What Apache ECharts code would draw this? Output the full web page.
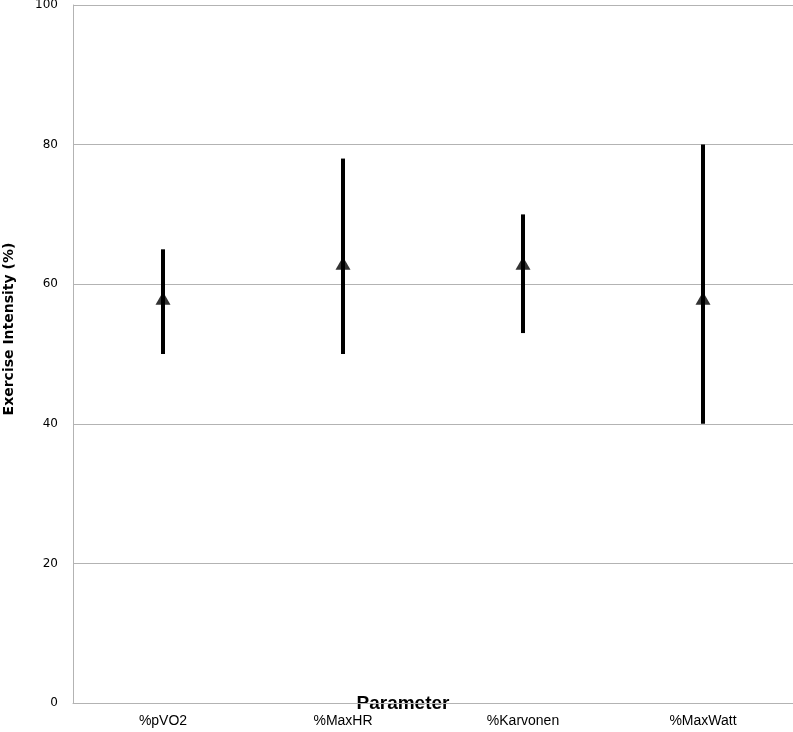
<!DOCTYPE html>
<html><head><meta charset="utf-8">
<script src="https://cdn.jsdelivr.net/npm/echarts@6/dist/echarts.min.js"></script>
<style>html,body{margin:0;padding:0;background:#fff}#c{width:793px;height:732px}</style>
</head><body><div id="c"></div>
<script>
const categories = ['%pVO2', '%MaxHR', '%Karvonen', '%MaxWatt'];
const meanValues = [58, 63, 63, 58];
const lowValues = [50, 50, 53, 40];
const highValues = [65, 78, 70, 80];
const yTicks = [0, 20, 40, 60, 80, 100];

const chart = echarts.init(document.getElementById('c'));
const rangeData = categories.map((c, i) => [i, lowValues[i], highValues[i]]);
chart.setOption({
  animation: false,
  grid: { left: 73, right: 0, top: 5, bottom: 29, containLabel: false, outerBoundsMode: 'none' },
  xAxis: {
    type: 'category', data: categories,
    axisLine: { lineStyle: { color: '#b3b3b3', width: 1 } },
    axisTick: { show: false },
    axisLabel: { color: '#000', fontFamily: 'Liberation Sans', fontSize: 14, margin: 11 },
    name: 'Parameter', nameLocation: 'middle', nameGap: -9, nameMoveOverlap: false,
    nameTextStyle: { color: '#000', fontFamily: 'Liberation Sans', fontSize: 19, fontWeight: 'bold', padding: [0, 60, 0, 0] }
  },
  yAxis: {
    type: 'value', min: yTicks[0], max: yTicks[yTicks.length - 1], interval: 20,
    axisLine: { show: true, lineStyle: { color: '#b3b3b3', width: 1 } },
    axisTick: { show: false },
    splitLine: { lineStyle: { color: '#b3b3b3', width: 1 } },
    axisLabel: { color: '#000', fontFamily: 'DejaVu Sans', fontSize: 12, margin: 15 },
    name: 'Exercise Intensity (%)', nameLocation: 'middle', nameGap: 57, nameMoveOverlap: false,
    nameTextStyle: { color: '#000', fontFamily: 'DejaVu Sans', fontSize: 14, fontWeight: 'bold', padding: [0, 0, 0, 50] }
  },
  series: [
    {
      type: 'custom', data: rangeData, z: 2,
      renderItem: function (params, api) {
        const x = api.value(0);
        const p1 = api.coord([x, api.value(1)]);
        const p2 = api.coord([x, api.value(2)]);
        return { type: 'line', shape: { x1: p1[0], y1: p1[1], x2: p2[0], y2: p2[1] },
                 style: { stroke: '#000', lineWidth: 4 } };
      }
    },
    {
      type: 'scatter', data: meanValues, symbol: 'triangle', symbolSize: [15, 13],
      itemStyle: { color: '#000' }, z: 3
    }
  ]
});
</script></body></html>
